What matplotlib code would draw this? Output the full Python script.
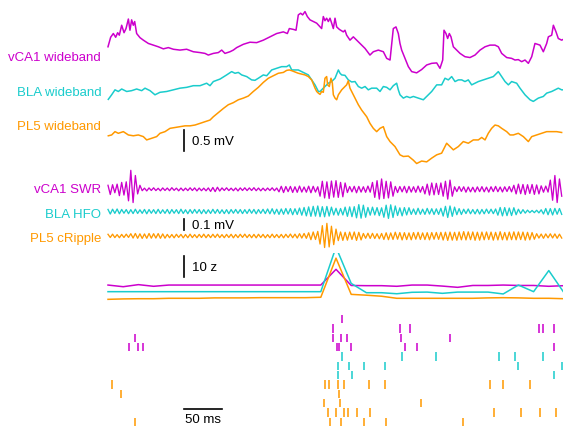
import numpy as np
import matplotlib.pyplot as plt

plt.rcParams["font.family"] = ["Liberation Sans", "DejaVu Sans"]
plt.rcParams["font.size"] = 9.5

VCA1 = "#CC00CC"
BLA = "#1ACCCC"
PL5 = "#FF9900"

# ---- wideband LFP (time in ms, voltage in mV) ----
vca1_wide_t = [0, 3.5, 7, 10.1, 12.7, 14.9, 18, 21.1, 23.7, 26.8,
               28.9, 31.1, 33.3, 35.1, 37.7, 42.1, 46.5, 53.1, 59.6, 66.2,
               72.8, 79.4, 86, 94.7, 103.5, 112.3, 121.1, 127.6, 132, 138.6,
               145.2, 149.6, 153.9, 160.5, 164.9, 169.3, 178.1, 186.8, 195.6, 204.4,
               213.2, 221.9, 230.7, 236, 238.6,
               243.9, 247.4, 250.4, 253.5, 256.1, 259.2, 262.3, 265.8, 270.2, 274.6,
               279, 281.1, 283.3, 285.5, 287.7, 289.9, 292.1, 294.3, 296.5, 298.7,
               300.9, 304.4, 309.6, 311.8, 314, 318.4, 322.8, 327.2, 331.6, 338.2,
               344.7, 349.1, 355.7, 362.3, 366.7, 371.1, 375.4, 378.9, 382, 384.2,
               386.4, 390.8, 395.2, 399.6, 406.1, 412.7, 419.3, 425.9, 432.5, 436.8,
               440.4, 442.1, 444.7, 446.9, 449.1, 451.3, 454.4, 458.8, 463.2, 469.7,
               476.3, 482.9, 489.5, 496.1, 502.6, 509.2, 513.6, 518, 524.6, 531.1,
               535.5, 539.9, 544.3, 548.7, 553.1, 557.5, 561.8, 568.4, 572.8, 577.2,
               579.4, 583.8, 586, 589.5, 592.5, 596.9, 599.1]
vca1_wide_mv = [0.08, 0.31, 0.40, 0.31, 0.42, 0.36, 0.60, 0.42, 0.52, 0.75,
                0.48, 0.73, 0.60, 0.69, 0.40, 0.30, 0.24, 0.16, 0.12, 0.08,
                0.03, 0.06, 0.02, 0.00, 0.02, -0.04, -0.06, -0.08, -0.12, -0.08,
                -0.06, 0.00, -0.08, -0.04, 0.00, 0.06, 0.14, 0.19, 0.18, 0.24,
                0.32, 0.40, 0.44, 0.40, 0.52,
                0.50, 0.48, 0.85, 0.89, 0.85, 0.93, 0.81, 0.73, 0.69, 0.65,
                0.56, 0.52, 0.81, 0.71, 0.77, 0.69, 0.77, 0.65, 0.52, 0.77,
                0.56, 0.50, 0.44, 0.48, 0.36, 0.24, 0.32, 0.24, 0.16, 0.04,
                -0.12, -0.04, 0.00, -0.04, -0.20, -0.24, 0.52, 0.56, 0.40, 0.16,
                0.00, -0.20, -0.40, -0.52, -0.55, -0.47, -0.36, -0.32, -0.31, -0.44,
                -0.24, 0.48, 0.40, 0.28, 0.40, 0.32, 0.08, 0.00, -0.08, -0.16,
                -0.18, -0.12, 0.00, 0.08, 0.12, 0.12, 0.08, -0.08, -0.18, -0.20,
                -0.24, -0.23, -0.28, -0.24, -0.32, -0.16, 0.16, 0.12, -0.04, 0.16,
                0.32, 0.36, 0.60, 0.44, 0.28, 0.24, 0.26]

bla_wide_t = [0.4, 4.8, 9.2, 13.6, 18.0, 24.6, 31.1, 37.7, 44.3, 48.7,
              55.3, 61.8, 68.4, 77.2, 86.0, 94.7, 103.5, 112.3, 121.1, 129.8,
              134.2, 138.6, 147.4, 156.1, 162.7, 167.1, 171.5, 175.9, 182.5, 189.0,
              193.4, 197.8, 204.4, 208.8, 215.4, 221.9, 228.5, 235.1, 238.6,
              241.7, 250.4, 259.2, 263.6, 268.0, 272.4, 276.8, 279.0, 283.3, 285.5,
              289.9, 294.3, 298.7, 303.1, 305.3, 307.5, 311.8, 316.2, 320.6, 325.0,
              329.4, 333.8, 338.2, 342.5, 346.9,
              353.5, 357.9, 362.3, 366.7, 371.1, 375.4, 379.8, 382.0, 384.2, 388.6,
              393.0, 397.4, 401.8, 408.3, 414.9, 419.3, 425.9, 432.5, 439.0, 443.4,
              447.8, 452.2, 456.6, 461.0, 465.4, 469.7, 474.1, 478.5, 482.9, 487.3,
              493.9, 500.4, 507.0, 513.6, 518.0, 522.4, 526.8, 531.1, 537.7, 542.1,
              548.7, 555.3, 559.6, 566.2, 572.8, 577.2, 583.8, 588.2, 592.5, 596.9,
              599.1]
bla_wide_mv = [-0.23, -0.12, 0.00, -0.04, 0.02, -0.04, -0.02, 0.02, -0.02, 0.04,
               -0.02, -0.12, -0.06, -0.04, 0.00, 0.04, 0.06, 0.10, 0.10, 0.16,
               0.10, 0.20, 0.26, 0.36, 0.44, 0.40, 0.42, 0.36, 0.32, 0.24,
               0.23, 0.28, 0.36, 0.34, 0.48, 0.52, 0.56, 0.56, 0.60,
               0.48, 0.48, 0.40, 0.36, 0.24, 0.12, -0.04, -0.04, 0.04, 0.08,
               0.16, 0.20, 0.28, 0.48, 0.40, 0.36, 0.35, 0.24, 0.19, 0.20,
               0.08, 0.04, 0.08, 0.00, 0.04,
               0.04, -0.04, 0.08, 0.06, 0.00, 0.10, 0.16, 0.00, -0.12, -0.20,
               -0.16, -0.19, -0.16, -0.20, -0.24, -0.16, -0.04, 0.12, 0.12, 0.28,
               0.24, 0.32, 0.20, 0.24, 0.24, 0.20, 0.24, 0.12, 0.16, 0.20,
               0.24, 0.28, 0.32, 0.44, 0.32, 0.20, 0.12, 0.20, 0.16, 0.04,
               -0.12, -0.24, -0.28, -0.20, -0.16, -0.08, -0.04, 0.00, 0.04, 0.00,
               0.00]

pl5_wide_t = [0.4, 4.8, 9.2, 13.6, 20.2, 26.8, 33.3, 39.9, 46.5, 50.9,
              57.5, 64.0, 68.4, 75.0, 81.6, 88.2, 94.7, 101.3, 107.9, 114.5,
              121.1, 127.6, 134.2, 138.6, 145.2, 151.8, 158.3, 164.9, 171.5, 178.1,
              184.6, 191.2, 197.8, 204.4, 211.0, 217.5, 224.1, 230.7, 235.1, 238.6,
              242.1, 250.4, 259.2, 263.6, 268.0, 272.4, 274.6, 276.8, 279.0, 281.1,
              283.3, 285.5, 287.7, 289.0, 291.2, 293.4, 295.2, 296.5, 298.7, 300.9,
              303.1, 307.5, 311.8, 314.0, 316.2, 318.4, 320.6, 325.0, 329.4,
              333.8, 340.4, 344.7, 349.1, 353.5, 357.9, 362.3, 366.7, 371.1, 377.6,
              384.2, 388.6, 395.2, 401.8, 406.1, 412.7, 419.3, 425.9, 432.5, 439.0,
              443.4, 445.6, 450.0, 454.4, 461.0, 467.5, 474.1, 480.7, 487.3, 491.7,
              496.1, 500.4, 504.8, 509.2, 513.6, 518.0, 524.6, 529.0, 533.3, 539.9,
              546.5, 553.1, 557.5, 564.0, 570.6, 577.2, 583.8, 590.4, 596.9]
pl5_wide_mv = [-0.06, -0.04, 0.04, 0.00, 0.04, -0.04, -0.06, -0.04, -0.08, -0.16,
               -0.12, -0.08, 0.00, 0.04, 0.12, 0.14, 0.16, 0.18, 0.18, 0.20,
               0.24, 0.28, 0.32, 0.40, 0.50, 0.60, 0.69, 0.74, 0.81, 0.85,
               0.90, 1.01, 1.11, 1.23, 1.33, 1.39, 1.45, 1.47, 1.52, 1.53,
               1.51, 1.45, 1.41, 1.37, 1.29, 1.09, 1.01, 0.97, 0.94, 1.01,
               0.99, 1.33, 1.37, 1.17, 1.13, 1.33, 1.21, 0.93, 0.85, 0.81,
               0.93, 1.05, 1.13, 1.17, 1.27, 1.09, 1.01, 0.85, 0.69,
               0.56, 0.40, 0.24, 0.12, 0.04, 0.12, 0.16, -0.08, -0.20, -0.32,
               -0.52, -0.56, -0.55, -0.65, -0.73, -0.67, -0.69, -0.60, -0.52, -0.48,
               -0.32, -0.24, -0.32, -0.40, -0.32, -0.20, -0.24, -0.16, -0.16, -0.10,
               -0.16, 0.00, 0.12, 0.20, 0.18, 0.12, 0.04, -0.04, -0.04, 0.00,
               -0.08, -0.20, -0.08, -0.04, 0.00, 0.04, 0.04, 0.04, 0.02]

# ---- band-passed traces: successive peaks/troughs every 3 ms, in uV ----
vca1_swr_uv = [35, -45, 40, -30, 45, -55, 60, -50, 65, -100, 165, -115, 120, -40, 35,
               -12, 10, -14, 12, -10, 13, -11, 9, -13, 12, -10, 11, -12, 14, -9,
               10, -13, 11, -12, 10, -11, 13, -10, 12, -14, 11, -12, 10, -13, 12,
               -18, 16, -20, 18, -15,
               12, -10, 13, -11, 10, -12, 11, -14, 12, -10, 13, -11, 12, -10, 14,
               -12, 11, -13, 10, -12, 11, -10, 13, -12, 11,
               -22, 26, -28, 24, -20, 25, -27, 22, -26, 28, -24, 20, -25, 27, -30,
               26, -24, 22,
               -60, 70, -75, 65, -80, 72, -68, 75, -70, 60, -65, 55,
               -28, 24, -22, 26, -30, 25, -24, 22, -26, 28, -25,
               60, -70, 75, -85, 90, -80, 70, -75, 65, -60,
               25, -28, 24, -22, 26, -30, 25, -24, 22, -26, 28, -25, 24,
               -40, 45, -50, 55, -48, 52, -45, 55, -60, 70, -85, 80, -60,
               22, -20, 24, -18, 22, -25, 20, -22, 18, -24, 21, -20, 23, -22, 19,
               -24, 22, -20, 25, -21, 20, -23, 22, -19, 24, -22,
               35, -40, 45, -38, 42, -45, 40, -36, 42, -44, 38, -40, 30, -25, 28, -24,
               80, -95, 120, -115, 90, -60]
bla_hfo_uv = [18, -22, 20, -16, 22, -20, 18, -15, 17, -19, 16, -18, 20, -17, 15,
              -16, 18, -20, 17, -15, 16, -18, 19, -17, 15, -16, 18, -19, 17, -15,
              16, -18, 20, -17, 15, -19, 17, -16, 18, -15, 17, -19, 16, -18, 15,
              -17, 19, -16, 18, -17, 15, -18, 16, -19, 17, -15, 18, -16, 17, -18,
              16, -17, 19, -15, 18, -20, 17, -16, 19, -18, 22, -20, 24, -22, 20,
              -25, 22, -24, 26, -22, 25, -28, 24, -26,
              30, -32, 35, -38, 40, -42, 45, -40, 48, -45, 42, -46, 44, -40, 38,
              -30, 28, -32, 26, -30,
              38, -42, 40, -45, 42,
              -55, 60, -58, 55, -50,
              35, -32, 38, -30, 34, -36, 32,
              -50, 55, -60, 58, -52, 48,
              -35, 32, -38, 34, -30, 33,
              -25, 22, -26, 28, -24, 20, -25, 27, -22, 24, -26, 23, -25, 28,
              -40, 45, -52, 48, -42, 38,
              -28, 25, -26,
              20, -18, 22, -20, 17, -21, 19, -22, 18, -20, 21, -17, 20, -19, 22,
              -32, 35, -38, 34, -36, 30, -35, 33, -28,
              20, -18, 16, -14, 12, -10, 9, -10, 11, -12, 15,
              -22, 26, -28, 25, -30, 27, -24, 26, -25]
pl5_crip_uv = [15, -13, 16, -14, 12, -15, 14, -13, 16, -12,
               20, -18, 22, -20, 19, -21, 18, -20, 22, -19, 20, -18, 21, -20, 18, -19,
               14, -15, 13, -16, 15, -12, 14, -16, 13, -15, 16, -14, 12, -15, 14,
               -13, 16, -15, 13, -14,
               15, -13, 16, -14, 12, -15, 14, -13, 15, -16, 13, -14, 15, -12, 16,
               -14, 13, -15, 14, -16,
               15, -13, 14, -16, 12, -15, 16, -14, 13, -15, 14, -16, 15, -13, 17,
               -15, 16, -18, 20, -18, 22, -20,
               28, -32, 35, -30, 40,
               -70, 90, -100, 110, -95, 85, -75, 60,
               -40, 35, -38, 32, -36, 34, -30, 35, -38, 32, -34,
               22, -20, 24, -21, 23, -22, 20, -24, 22,
               -30, 28, -32, 27, -30, 33, -28, 30, -34, 29, -31, 27, -33, 30, -28,
               32, -30, 27, -31, 29, -33, 30, -28, 31, -29, 32,
               -35, 33, -38, 34, -36, 32, -37, 35, -33, 38, -34, 36, -32, 35, -37,
               33, -36, 34,
               -33, 35, -31, 34, -36, 32, -34, 37, -33, 31, -35, 34, -32, 36, -33,
               35, -31, 34, -36, 32, -33, 30, -28,
               20, -18, 17, -20, 18, -16, 19, -17, 18, -20, 16, -18]

# ---- power z-scores, one value per 20 ms bin ----
vca1_z = [0, -0.8, 0.2, -0.6, 0, 0, 0, 0, 0, 0, 0, 0, 0, 0, 0, 7.6,
          -0.2, -0.3, -0.3, -0.6, 0, 0, -0.5, -1.1, -0.2, -0.2, 0, -0.2, -0.2, -0.6, -0.3]
bla_z = [0, 0, 0, 0, 0, 0, 0, 0, 0, 0, 0, 0, 0, 0, 0, 21.5,
         4.0, -0.5, -0.5, -1.0, -0.3, -0.2, -0.8, -0.2, -0.2, -0.2, -1.1, 3.2, 0, 10.2, -0.5]
pl5_z = [-0.5, -0.3, -0.2, -0.2, 0, 0, 0, 0.2, 0.2, 0.2, 0.3, 0.3, 0.3, 0.3, 0.5, 19.4,
         1.9, 1.5, 1.0, 0, 0, 0, 0, 0, 0, 0.2, 0.3, 0.2, 0, 0, -0.2]

# ---- spike times (ms), one list per unit ----
vca1_spikes = [[308],
               [296, 384, 398, 567, 572, 587],
               [35.5, 296, 307, 314, 386, 450],
               [28, 39, 46, 301, 304, 320, 391, 406, 587]]
bla_spikes = [[308, 387, 432, 514, 535, 573],
              [302, 317, 337, 364, 540, 597],
              [303, 321, 587]]
pl5_spikes = [[5, 285, 291, 302, 310.5, 343, 364, 503, 520, 555],
              [17, 304],
              [284, 305, 412],
              [289, 300, 310.5, 316, 327, 345, 508, 543, 568, 589],
              [35, 292, 306, 337, 366, 467]]

W, H = 563, 430
PX_MS = 0.76       # pixels per ms
X_START = 108      # pixel where t = 0

fig = plt.figure(figsize=(W / 100, H / 100), dpi=100)


def panel(top, bottom, zero, px_per_unit):
    ax = fig.add_axes([0, 1 - bottom / H, 1, (bottom - top) / H])
    ax.set_xlim(-X_START / PX_MS, (W - X_START) / PX_MS)
    ax.set_ylim(-(bottom - zero) / px_per_unit, (zero - top) / px_per_unit)
    ax.axis("off")
    return ax


def label(ax, y, text, color):
    ax.text(-9, y, text, color=color, ha="right", va="center_baseline")


def scalebar(ax, y0, y1, text):
    ax.plot([100, 100], [y0, y1], color="k", lw=1.2, clip_on=False)
    ax.text(110, (y0 + y1) / 2, text, ha="left", va="center_baseline")


# wideband
ax = panel(0, 165, 133.3, 41.4)
ax.plot(vca1_wide_t, np.array(vca1_wide_mv) + 2.01, color=VCA1, lw=1.1)
ax.plot(bla_wide_t, np.array(bla_wide_mv) + 1.05, color=BLA, lw=1.1)
ax.plot(pl5_wide_t, np.array(pl5_wide_mv), color=PL5, lw=1.1)
label(ax, 1.86, "vCA1 wideband", VCA1)
label(ax, 1.02, "BLA wideband", BLA)
label(ax, 0.18, "PL5 wideband", PL5)
scalebar(ax, -0.42, 0.08, "0.5 mV")

# band-passed
t_osc = np.arange(len(vca1_swr_uv)) * 3.0
ax = panel(165, 252, 236, 0.115)
ax.plot(t_osc, np.array(vca1_swr_uv) + 406, color=VCA1, lw=0.95)
ax.plot(t_osc, np.array(bla_hfo_uv) + 213, color=BLA, lw=0.95)
ax.plot(t_osc, np.array(pl5_crip_uv), color=PL5, lw=0.95)
label(ax, 410, "vCA1 SWR", VCA1)
label(ax, 200, "BLA HFO", BLA)
label(ax, -12, "PL5 cRipple", PL5)
scalebar(ax, 52, 152, "0.1 mV")

# z-scores
t_z = np.arange(len(vca1_z)) * 20.0
ax = panel(252.7, 305, 298.3, 2.07)
ax.plot(t_z, np.array(vca1_z) + 6.4, color=VCA1, lw=1.1)
ax.plot(t_z, np.array(bla_z) + 3.2, color=BLA, lw=1.1)
ax.plot(t_z, np.array(pl5_z), color=PL5, lw=1.1)
scalebar(ax, 10.4, 20.4, "10 z")

# raster
ax = panel(310, 430, 319.3, -9.33)
rows = vca1_spikes + bla_spikes + pl5_spikes
colors = [VCA1] * len(vca1_spikes) + [BLA] * len(bla_spikes) + [PL5] * len(pl5_spikes)
ax.eventplot(rows, lineoffsets=np.arange(len(rows)), linelengths=0.9,
             colors=colors, linewidths=1.3, alpha=0.85)
ax.plot([100, 150], [9.61, 9.61], color="k", lw=1.2, clip_on=False)
ax.text(125, 10.6, "50 ms", ha="center", va="center_baseline")

fig.savefig("out.png", dpi=100)
